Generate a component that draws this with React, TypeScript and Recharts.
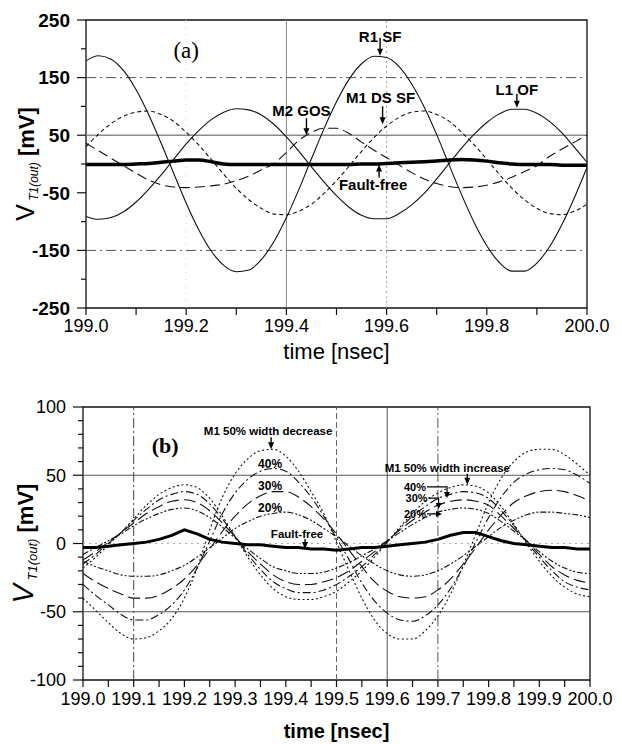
import { LineChart, Line, XAxis, YAxis, ReferenceLine, ReferenceArea, ReferenceDot } from 'recharts';

const SANS = '"Liberation Sans", Arial, Helvetica, sans-serif';
const SERIF = '"Liberation Serif", "Times New Roman", serif';

// time axis shared by both panels [nsec]
const time = [
  199.0, 199.025, 199.05, 199.075, 199.1, 199.125, 199.15, 199.175, 199.2, 199.225,
  199.25, 199.275, 199.3, 199.325, 199.35, 199.375, 199.4, 199.425, 199.45, 199.475,
  199.5, 199.525, 199.55, 199.575, 199.6, 199.625, 199.65, 199.675, 199.7, 199.725,
  199.75, 199.775, 199.8, 199.825, 199.85, 199.875, 199.9, 199.925, 199.95, 199.975, 200.0,
];

// panel (a) [mV]
const r1Sf = [179, 188, 182, 162, 129, 86, 36, -16, -68, -114, -151, -176, -187, -184, -166, -135, -93, -44, 9, 61, 108, 147, 174, 187, 185, 169, 139, 99, 51, -2, -54, -102, -142, -171, -186, -186, -172, -144, -105, -58, -6];
const l1Of = [-91, -96, -93, -83, -66, -44, -19, 8, 35, 58, 77, 90, 96, 94, 85, 69, 47, 22, -5, -31, -55, -75, -89, -95, -95, -86, -71, -51, -26, 1, 28, 52, 72, 87, 95, 95, 88, 74, 54, 29, 3];
const m1DsSf = [30, 52, 70, 83, 90, 92, 86, 74, 55, 33, 8, -18, -42, -62, -77, -87, -88, -82, -70, -51, -29, -4, 22, 46, 66, 81, 90, 92, 86, 74, 55, 33, 8, -18, -42, -62, -77, -86, -88, -82, -70];
const m2Gos = [36, 23, 10, -3, -16, -28, -36, -40, -41, -40, -38, -35, -29, -21, -10, 1, 20, 41, 55, 62, 62, 53, 38, 24, 11, -2, -15, -26, -34, -39, -41, -40, -37, -31, -23, -13, -3, 13, 26, 38, 50];
const faultFreeA = [-1, -1, -1, -1, 0, 1, 3, 5, 7, 7, 4, 0, -1, -1, -1, -1, -1, -1, -1, -1, -1, -1, 0, 0, 1, 2, 3, 4, 5, 7, 8, 7, 5, 2, 0, -1, -1, -1, -2, -2, -2];

// panel (b) [mV]
const dec50 = [-40, -49, -58, -66, -70, -69, -64, -55, -40, -18, 10, 34, 51, 62, 68, 69, 64, 53, 38, 22, 1, -20, -40, -56, -66, -70, -70, -64, -53, -37, -16, 7, 30, 48, 60, 67, 69, 69, 65, 58, 50];
const dec40 = [-30, -38, -45, -52, -56, -56, -52, -45, -34, -18, 2, 22, 37, 47, 53, 55, 53, 45, 34, 20, 4, -12, -29, -42, -51, -56, -57, -53, -45, -33, -17, 1, 19, 34, 45, 51, 54, 55, 54, 50, 44];
const dec30 = [-22, -28, -33, -37, -40, -40, -38, -33, -26, -16, -4, 9, 20, 29, 35, 38, 38, 34, 27, 18, 7, -5, -17, -28, -35, -39, -40, -39, -34, -26, -15, -3, 10, 21, 30, 35, 38, 39, 38, 35, 31];
const dec20 = [-13, -17, -20, -23, -24, -24, -23, -20, -16, -10, -3, 4, 11, 16, 20, 22, 23, 21, 17, 11, 5, -2, -9, -15, -20, -23, -24, -23, -20, -15, -9, -2, 5, 12, 17, 21, 23, 23, 22, 21, 19];
const inc50 = [-18, -10, -1, 8, 18, 28, 36, 41, 43, 41, 33, 20, 5, -10, -23, -33, -39, -41, -41, -39, -35, -28, -20, -10, 1, 12, 22, 31, 37, 41, 43, 42, 37, 27, 14, 0, -13, -24, -32, -37, -39];
const inc40 = [-15, -8, 0, 8, 17, 25, 32, 36, 38, 36, 29, 18, 5, -8, -19, -28, -33, -36, -36, -34, -30, -24, -17, -8, 1, 11, 20, 27, 33, 36, 38, 37, 33, 24, 13, 1, -10, -20, -28, -32, -34];
const inc30 = [-12, -6, 1, 8, 15, 22, 27, 31, 32, 30, 24, 15, 5, -6, -15, -23, -28, -30, -30, -28, -25, -20, -13, -6, 2, 10, 17, 23, 28, 31, 32, 31, 28, 20, 11, 2, -8, -17, -23, -27, -29];
const inc20 = [-8, -3, 2, 7, 13, 18, 22, 25, 26, 24, 19, 12, 4, -4, -11, -17, -20, -22, -22, -21, -18, -14, -9, -4, 2, 8, 14, 19, 23, 25, 26, 25, 22, 16, 9, 2, -6, -13, -18, -21, -22];
const faultFreeB = [-3, -3, -2, -1, 0, 1, 3, 6, 10, 7, 3, 1, 0, -1, -1, -2, -3, -3, -4, -4, -5, -4, -3, -3, -2, -1, 0, 1, 3, 6, 8, 8, 5, 2, 0, -1, -2, -3, -3, -4, -4];

// ticks
const xTicksA = [199.0, 199.1, 199.2, 199.3, 199.4, 199.5, 199.6, 199.7, 199.8, 199.9, 200.0];
const xLabelsA = [199.0, 199.2, 199.4, 199.6, 199.8, 200.0];
const yTicksA = [-250, -200, -150, -100, -50, 0, 50, 100, 150, 200, 250];
const yLabelsA = [-250, -150, -50, 50, 150, 250];
const xTicksB = [199.0, 199.05, 199.1, 199.15, 199.2, 199.25, 199.3, 199.35, 199.4, 199.45, 199.5, 199.55, 199.6, 199.65, 199.7, 199.75, 199.8, 199.85, 199.9, 199.95, 200.0];
const xLabelsB = [199.0, 199.1, 199.2, 199.3, 199.4, 199.5, 199.6, 199.7, 199.8, 199.9, 200.0];
const yTicksB = [-100, -90, -80, -70, -60, -50, -40, -30, -20, -10, 0, 10, 20, 30, 40, 50, 60, 70, 80, 90, 100];
const yLabelsB = [-100, -50, 0, 50, 100];

const dataA = time.map((t, i) => ({ t, r1: r1Sf[i], l1: l1Of[i], m1: m1DsSf[i], m2: m2Gos[i], ff: faultFreeA[i] }));
const dataB = time.map((t, i) => ({
  t, d50: dec50[i], d40: dec40[i], d30: dec30[i], d20: dec20[i],
  i50: inc50[i], i40: inc40[i], i30: inc30[i], i20: inc20[i], ff: faultFreeB[i],
}));

const has = (list: number[], v: number) => list.some((l) => Math.abs(l - v) < 1e-6);

const bottomTick = (labels: number[], size: number, gap: number) => (props: any) => {
  const { x, y, payload } = props;
  const v = payload.value as number;
  return (
    <g>
      <line x1={x} y1={y} x2={x} y2={y + 7} stroke="#111" strokeWidth={1.2} />
      {has(labels, v) && (
        <text x={x} y={y + gap} textAnchor="middle" fontSize={size} fontFamily={SANS} fill="#000">
          {v.toFixed(1)}
        </text>
      )}
    </g>
  );
};

const leftTick = (labels: number[], size: number, bold: boolean, major: number, minor: number) => (props: any) => {
  const { x, y, payload } = props;
  const v = payload.value as number;
  const big = has(labels, v);
  return (
    <g>
      <line x1={x - (big ? major : minor)} y1={y} x2={x} y2={y} stroke="#111" strokeWidth={1.2} />
      {big && (
        <text x={x - major - 7} y={y} dy="0.36em" textAnchor="end" fontSize={size} fontWeight={bold ? 'bold' : 'normal'} fontFamily={SANS} fill="#000">
          {v}
        </text>
      )}
    </g>
  );
};

const yTitle = (baseX: number, vSize: number, vItalic: boolean, subSize: number, unitSize: number) => (props: any) => {
  const vb = props.viewBox;
  const cy = vb.y + vb.height / 2;
  return (
    <text transform={`rotate(-90, ${baseX}, ${cy})`} x={baseX} y={cy} textAnchor="middle" fontFamily={SANS} fill="#000">
      <tspan fontSize={vSize} fontStyle={vItalic ? 'italic' : 'normal'}>V</tspan>
      <tspan fontSize={subSize} fontStyle="italic" dy={4}> T1(out)</tspan>
      <tspan fontSize={unitSize} fontWeight="bold" dy={-4}> [mV]</tspan>
    </text>
  );
};

const xTitle = (dy: number, size: number, bold: boolean) => (props: any) => {
  const vb = props.viewBox;
  return (
    <text x={vb.x + vb.width / 2} y={vb.y + dy} textAnchor="middle" fontSize={size} fontWeight={bold ? 'bold' : 'normal'} fontFamily={SANS} fill="#000">
      time [nsec]
    </text>
  );
};

// arrow callout, tip sits on the curve
const callout = (text: string, size: number, len: number, ty: number, dx = 0, up = false) => (p: any) => {
  const { cx, cy } = p;
  const s = up ? 1 : -1;
  return (
    <g>
      <line x1={cx} y1={cy + s * len} x2={cx} y2={cy + s * 5} stroke="#000" strokeWidth={1.4} />
      <polygon points={`${cx - 3},${cy + s * 7} ${cx + 3},${cy + s * 7} ${cx},${cy}`} fill="#000" />
      <text x={cx + dx} y={cy + ty} textAnchor="middle" fontSize={size} fontWeight="bold" fontFamily={SANS} fill="#000">
        {text}
      </text>
    </g>
  );
};

const plainText = (text: string, size: number, family: string, bold = false) => (p: any) => (
  <text x={p.cx} y={p.cy} textAnchor="middle" fontSize={size} fontWeight={bold ? 'bold' : 'normal'} fontFamily={family} fill="#000">
    {text}
  </text>
);

// bracket pointer used for the width increase percentages
const bracket = (text: string, reach: number, side: boolean) => (p: any) => {
  const { cx, cy } = p;
  if (side) {
    return (
      <g>
        <line x1={cx - reach} y1={cy} x2={cx - 5} y2={cy} stroke="#000" strokeWidth={1.2} />
        <polygon points={`${cx - 6},${cy - 3} ${cx - 6},${cy + 3} ${cx},${cy}`} fill="#000" />
        <text x={cx - reach - 1} y={cy + 4} textAnchor="end" fontSize={11} fontWeight="bold" fontFamily={SANS} fill="#000">{text}</text>
      </g>
    );
  }
  return (
    <g>
      <polyline points={`${cx - reach},${cy - 11} ${cx},${cy - 11} ${cx},${cy - 5}`} fill="none" stroke="#000" strokeWidth={1.2} />
      <polygon points={`${cx - 3},${cy - 6} ${cx + 3},${cy - 6} ${cx},${cy}`} fill="#000" />
      <text x={cx - reach - 1} y={cy - 7} textAnchor="end" fontSize={11} fontWeight="bold" fontFamily={SANS} fill="#000">{text}</text>
    </g>
  );
};

const thin = { stroke: '#111', strokeWidth: 1.1, dot: false, isAnimationActive: false, type: 'monotone' as const };

const App = () => {
  return (
    <div style={{ position: 'absolute', left: 0, top: 0, width: 622, height: 744, background: '#fff' }}>
      <div style={{ position: 'absolute', left: 0, top: 0 }}>
        <LineChart width={622} height={380} data={dataA} margin={{ top: 20, right: 35, bottom: 42, left: 46 }}>
          <XAxis
            dataKey="t" type="number" domain={[199, 200]} ticks={xTicksA} interval={0}
            axisLine={false} tickLine={false} tickSize={0} tickMargin={0} height={30}
            tick={bottomTick(xLabelsA, 18, 24)} label={xTitle(51, 22, false)}
          />
          <YAxis
            type="number" domain={[-250, 250]} ticks={yTicksA} interval={0} width={40}
            axisLine={false} tickLine={false} tickSize={0} tickMargin={0}
            tick={leftTick(yLabelsA, 19, true, 9, 5)} label={yTitle(34, 25, false, 12, 22)}
          />
          <ReferenceLine x={199.2} stroke="#ccc" strokeDasharray="1 6" />
          <ReferenceLine x={199.4} stroke="#888" strokeWidth={1} />
          <ReferenceLine x={199.6} stroke="#aaa" strokeDasharray="2 3" />
          <ReferenceLine y={150} stroke="#555" strokeDasharray="10 4 2 4" />
          <ReferenceLine y={50} stroke="#8a8a8a" strokeWidth={1.4} />
          <ReferenceLine y={-150} stroke="#555" strokeDasharray="10 4 2 4" />
          <ReferenceArea x1={199} x2={200} y1={-250} y2={250} fill="none" stroke="#111" strokeWidth={1.3} />
          <Line dataKey="r1" {...thin} />
          <Line dataKey="l1" {...thin} />
          <Line dataKey="m1" {...thin} strokeDasharray="4 3" />
          <Line dataKey="m2" {...thin} strokeDasharray="10 5" />
          <Line dataKey="ff" stroke="#000" strokeWidth={3.5} dot={false} isAnimationActive={false} type="monotone" />
          <ReferenceDot x={199.2} y={184} r={1} shape={plainText('(a)', 23, SERIF)} />
          <ReferenceDot x={199.587} y={188} r={1} shape={callout('R1 SF', 15, 18, -14)} />
          <ReferenceDot x={199.592} y={69} r={1} shape={callout('M1 DS SF', 15, 18, -21, -2)} />
          <ReferenceDot x={199.86} y={97.6} r={1} shape={callout('L1 OF', 15, 14, -13)} />
          <ReferenceDot x={199.44} y={50} r={1} shape={callout('M2 GOS', 15, 17, -19, -5)} />
          <ReferenceDot x={199.585} y={-1} r={1} shape={callout('Fault-free', 15, 13, 25, -6, true)} />
        </LineChart>
      </div>
      <div style={{ position: 'absolute', left: 0, top: 380 }}>
        <LineChart width={622} height={364} data={dataB} margin={{ top: 27, right: 32, bottom: 34, left: 43 }}>
          <XAxis
            dataKey="t" type="number" domain={[199, 200]} ticks={xTicksB} interval={0}
            axisLine={false} tickLine={false} tickSize={0} tickMargin={0} height={30}
            tick={bottomTick(xLabelsB, 18, 25)} label={xTitle(58, 20, true)}
          />
          <YAxis
            type="number" domain={[-100, 100]} ticks={yTicksB} interval={0} width={40}
            axisLine={false} tickLine={false} tickSize={0} tickMargin={0}
            tick={leftTick(yLabelsB, 18, false, 10, 5)} label={yTitle(33, 29, true, 13, 22)}
          />
          <ReferenceLine x={199.1} stroke="#444" strokeDasharray="10 3 2 3" />
          <ReferenceLine x={199.5} stroke="#666" strokeDasharray="6 3" />
          <ReferenceLine x={199.6} stroke="#555" />
          <ReferenceLine x={199.7} stroke="#555" strokeDasharray="10 3 2 3" />
          <ReferenceLine y={50} stroke="#555" />
          <ReferenceLine y={0} stroke="#aaa" strokeDasharray="2 4" />
          <ReferenceLine y={-50} stroke="#555" />
          <ReferenceArea x1={199} x2={200} y1={-100} y2={100} fill="none" stroke="#111" strokeWidth={1.3} />
          <Line dataKey="d50" {...thin} strokeDasharray="2 2.5" />
          <Line dataKey="d40" {...thin} strokeDasharray="8 3 2 3" />
          <Line dataKey="d30" {...thin} strokeDasharray="12 5" />
          <Line dataKey="d20" {...thin} strokeDasharray="6 2 2 2 2 2" />
          <Line dataKey="i50" {...thin} strokeDasharray="2 2.5" />
          <Line dataKey="i40" {...thin} strokeDasharray="8 3 2 3" />
          <Line dataKey="i30" {...thin} strokeDasharray="12 5" />
          <Line dataKey="i20" {...thin} strokeDasharray="6 2 2 2 2 2" />
          <Line dataKey="ff" stroke="#000" strokeWidth={3} dot={false} isAnimationActive={false} type="linear" />
          <ReferenceDot x={199.162} y={66.5} r={1} shape={plainText('(b)', 22, SERIF, true)} />
          <ReferenceDot x={199.371} y={69} r={1} shape={callout('M1 50% width decrease', 11.5, 12, -14, -3)} />
          <ReferenceDot x={199.369} y={55.5} r={1} shape={plainText('40%', 12, SANS, true)} />
          <ReferenceDot x={199.369} y={39.3} r={1} shape={plainText('30%', 12, SANS, true)} />
          <ReferenceDot x={199.369} y={23.2} r={1} shape={plainText('20%', 12, SANS, true)} />
          <ReferenceDot x={199.438} y={-4} r={1} shape={callout('Fault-free', 11.5, 10, -11, -8)} />
          <ReferenceDot x={199.758} y={43} r={1} shape={callout('M1 50% width increase', 11.5, 11, -13, -20)} />
          <ReferenceDot x={199.718} y={33.4} r={1} shape={bracket('40%', 20, false)} />
          <ReferenceDot x={199.7014} y={25.2} r={1} shape={bracket('30%', 10, false)} />
          <ReferenceDot x={199.708} y={21.7} r={1} shape={bracket('20%', 15, true)} />
        </LineChart>
      </div>
    </div>
  );
};

export default App;
